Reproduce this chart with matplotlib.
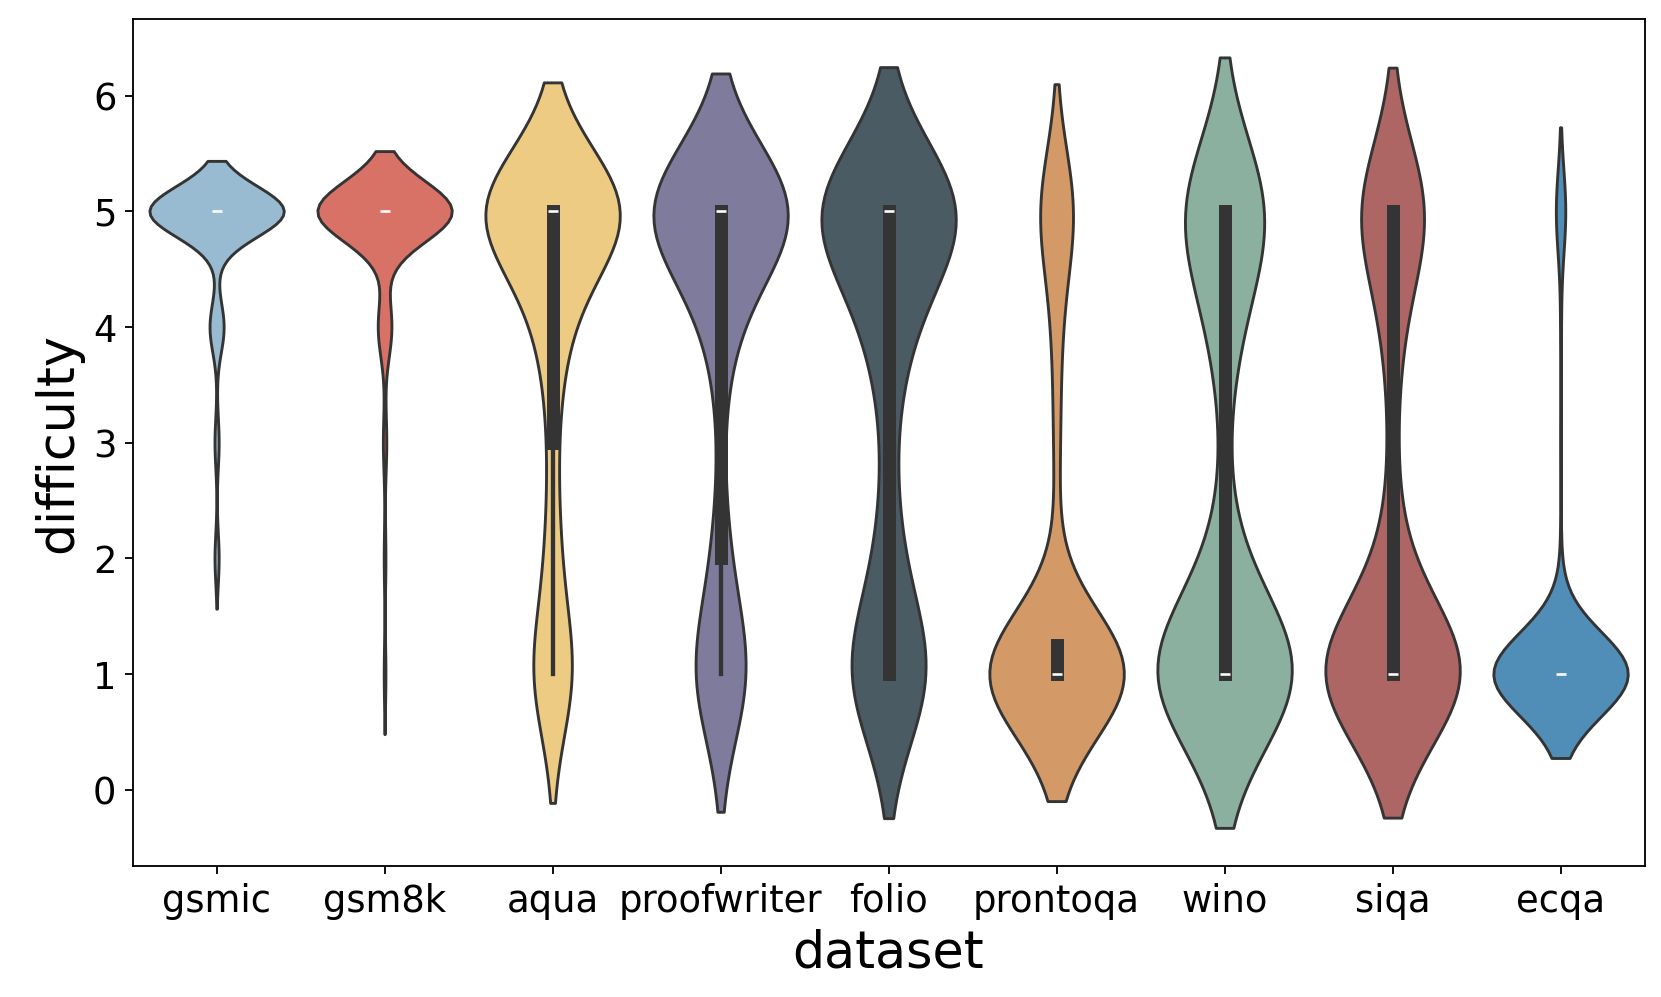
import numpy as np
import pandas as pd
import matplotlib
matplotlib.use("Agg")
import matplotlib.pyplot as plt
import seaborn as sns

datasets = ["gsmic", "gsm8k", "aqua", "proofwriter", "folio",
            "prontoqa", "wino", "siqa", "ecqa"]
levels = [1, 2, 3, 4, 5]

# number of questions at each difficulty level 1..5
gsmic_counts = [0, 5, 5, 17, 162]
gsm8k_counts = [1, 1, 2, 8, 79]
aqua_counts = [31, 10, 6, 19, 112]
proofwriter_counts = [41, 11, 2, 16, 114]
folio_counts = [50, 12, 5, 21, 91]
prontoqa_counts = [150, 1, 6, 8, 35]
wino_counts = [88, 9, 1, 13, 49]
siqa_counts = [115, 11, 4, 11, 52]
ecqa_counts = [157, 1, 1, 1, 11]

colors = ["#98BBD1", "#D97266", "#EDCB82", "#7F7B9C", "#4A5B63",
          "#D39A67", "#8CB0A0", "#AE6664", "#508EB7"]

all_counts = [gsmic_counts, gsm8k_counts, aqua_counts, proofwriter_counts,
              folio_counts, prontoqa_counts, wino_counts, siqa_counts, ecqa_counts]

rows = []
for name, counts in zip(datasets, all_counts):
    vals = np.repeat(levels, counts)
    rows.append(pd.DataFrame({"dataset": name, "difficulty": vals}))
df = pd.concat(rows, ignore_index=True)

fig, ax = plt.subplots(figsize=(10, 6.001), dpi=166.15)
sns.violinplot(data=df, x="dataset", y="difficulty", hue="dataset",
               palette=colors, saturation=1, density_norm="width",
               legend=False, ax=ax)

ax.set_yticks(range(7))
ax.set_xlabel("dataset", fontsize=22)
ax.set_ylabel("difficulty", fontsize=22)
ax.tick_params(labelsize=16)

fig.subplots_adjust(left=0.0798, right=0.9898, top=0.981, bottom=0.131)
fig.savefig("out.png", dpi=166.15)
